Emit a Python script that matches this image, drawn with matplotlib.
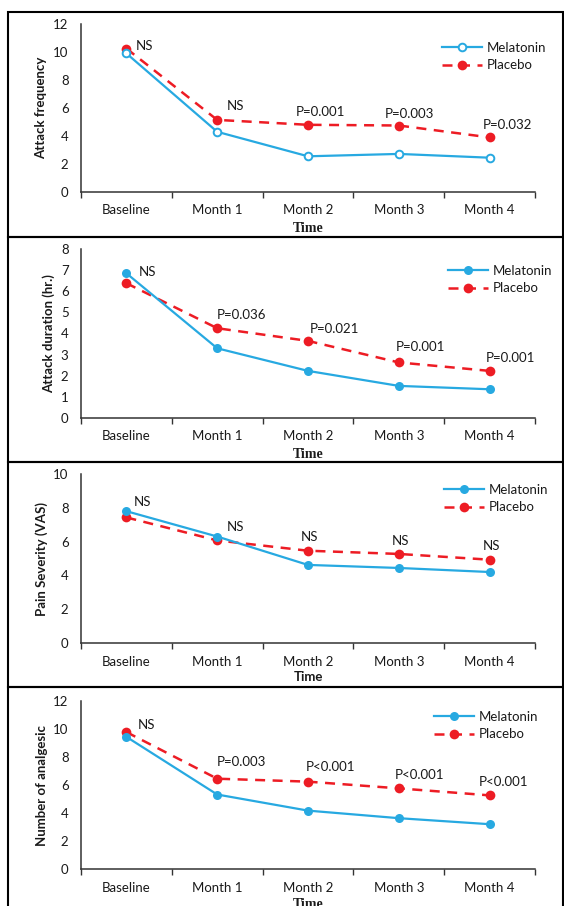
import matplotlib.pyplot as plt
from matplotlib.patches import Rectangle

# data
categories = ['Baseline', 'Month 1', 'Month 2', 'Month 3', 'Month 4']

freq_melatonin = [9.9, 4.3, 2.55, 2.72, 2.45]
freq_placebo = [10.25, 5.15, 4.8, 4.75, 3.9]
freq_labels = ['NS', 'NS', 'P=0.001', 'P=0.003', 'P=0.032']

dur_melatonin = [6.85, 3.3, 2.23, 1.52, 1.36]
dur_placebo = [6.38, 4.25, 3.65, 2.63, 2.23]
dur_labels = ['NS', 'P=0.036', 'P=0.021', 'P=0.001', 'P=0.001']

pain_melatonin = [7.8, 6.3, 4.62, 4.44, 4.2]
pain_placebo = [7.43, 6.07, 5.46, 5.27, 4.93]
pain_labels = ['NS', 'NS', 'NS', 'NS', 'NS']

anal_melatonin = [9.44, 5.32, 4.17, 3.63, 3.2]
anal_placebo = [9.78, 6.45, 6.24, 5.76, 5.26]
anal_labels = ['NS', 'P=0.003', 'P<0.001', 'P<0.001', 'P<0.001']

BLUE = '#27a9e1'
RED = '#ed1c24'
TXT = '#1a1a1a'
W, H = 564, 906

plt.rcParams['font.family'] = ['Lato', 'DejaVu Sans']

fig = plt.figure(figsize=(W / 100, H / 100), dpi=100)


def fx(px):
    return px / W


def fy(py):
    return 1 - py / H


panels = [
    # values, labels, ylabel, ymax, step, axis top/bottom px, label offsets px, legend pos, open markers, serif Time
    (freq_melatonin, freq_placebo, freq_labels, 'Attack frequency', 12, 2, 24, 192,
     [(9, 2), (10, 14), (-12, 13), (-14, 11), (-7, 12)], (442, 42), True, True),
    (dur_melatonin, dur_placebo, dur_labels, 'Attack duration (hr.)', 8, 1, 249, 418,
     [(12, 1), (0, 13), (2, 12), (-3, 15), (-4, 13)], (448, 265), False, True),
    (pain_melatonin, pain_placebo, pain_labels, 'Pain Severity (VAS)', 10, 2, 474, 643,
     [(7, 9), (10, 10), (-7, 14), (-7, 13), (-7, 14)], (444, 484), False, False),
    (anal_melatonin, anal_placebo, anal_labels, 'Number of analgesic', 12, 2, 701, 869,
     [(11, 7), (0, 17), (-2, 15), (-4, 13), (-11, 13)], (434, 711), False, True),
]

box_edges = [12, 237, 462, 687, 915]

for k, (mel, pla, labels, ylabel, ymax, ystep, top, bottom, offsets, legpos, open_mk, serif) in enumerate(panels):
    # panel frame
    fig.patches.append(Rectangle((fx(8), fy(box_edges[k + 1])), fx(563) - fx(8),
                                 fy(box_edges[k]) - fy(box_edges[k + 1]),
                                 transform=fig.transFigure, fill=False,
                                 edgecolor='black', linewidth=1.5, zorder=0))

    ax = fig.add_axes([fx(81), fy(bottom), fx(535) - fx(81), fy(top) - fy(bottom)])
    x = list(range(len(categories)))

    ax.plot(x, mel, color=BLUE, linewidth=1.6, marker='o', markersize=6.5 if not open_mk else 5.5,
            markerfacecolor='white' if open_mk else BLUE, markeredgecolor=BLUE,
            markeredgewidth=1.4 if open_mk else 0, label='Melatonin', zorder=3)
    ax.plot(x, pla, color=RED, linewidth=1.8, linestyle=(0, (4, 3)), marker='o', markersize=7,
            markerfacecolor=RED, markeredgewidth=0, label='Placebo', zorder=2)

    for i, (txt, (dx, dy)) in enumerate(zip(labels, offsets)):
        ax.annotate(txt, (i, max(mel[i], pla[i])), xytext=(dx, dy), textcoords='offset pixels',
                    ha='left', va='center', fontsize=9.5, color=TXT)

    ax.set_xlim(-0.5, 4.5)
    ax.set_ylim(0, ymax)
    ax.set_yticks(range(0, ymax + 1, ystep))
    ax.set_xticks(x)
    ax.set_xticklabels(categories)
    ax.set_xticks([i - 0.5 for i in range(6)], minor=True)
    ax.tick_params(axis='x', which='major', length=0, pad=9, labelsize=9.5, labelcolor=TXT)
    ax.tick_params(axis='x', which='minor', length=4, width=1, direction='out', color='#333333')
    ax.tick_params(axis='y', length=0, pad=9, labelsize=9.5, labelcolor=TXT)
    for side in ['top', 'right']:
        ax.spines[side].set_visible(False)
    for side in ['left', 'bottom']:
        ax.spines[side].set_color('#333333')
        ax.spines[side].set_linewidth(1.1)
    ax.set_ylabel(ylabel, fontsize=9.5, fontweight='bold', labelpad=4, color=TXT)

    ax.legend(loc='upper left', bbox_to_anchor=(fx(legpos[0]), fy(legpos[1])),
              bbox_transform=fig.transFigure, frameon=False, fontsize=9.5,
              handlelength=3.0, handletextpad=0.4, labelspacing=0.4,
              borderpad=0, borderaxespad=0, labelcolor=TXT)

    if serif:
        fig.text(fx(308), fy(bottom + 36), 'Time', ha='center', va='center',
                 family='Liberation Serif', fontweight='bold', fontsize=10, color=TXT)
    else:
        fig.text(fx(308), fy(bottom + 34), 'Time', ha='center', va='center',
                 fontweight='bold', fontsize=9.5, color=TXT)

fig.savefig('out.png', dpi=100)
